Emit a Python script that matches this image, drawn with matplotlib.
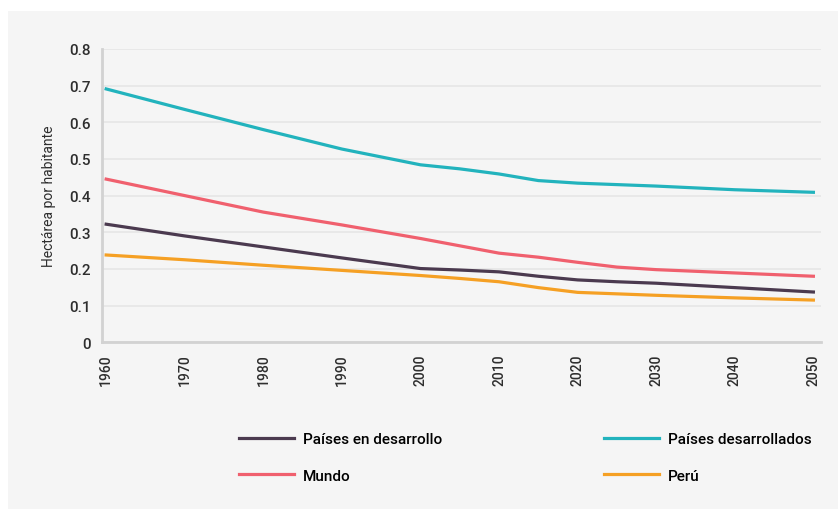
import matplotlib.pyplot as plt
from matplotlib.patches import Rectangle

years = [1960, 1970, 1980, 1990, 2000, 2005, 2010, 2015, 2020, 2025, 2030, 2040, 2050]
desarrollo = [0.322, 0.29, 0.26, 0.23, 0.201, 0.197, 0.192, 0.18, 0.17, 0.165, 0.161, 0.149, 0.137]
desarrollados = [0.691, 0.635, 0.58, 0.527, 0.484, 0.473, 0.459, 0.441, 0.434, 0.43, 0.426, 0.416, 0.409]
mundo = [0.445, 0.40, 0.355, 0.32, 0.283, 0.263, 0.243, 0.232, 0.218, 0.205, 0.198, 0.189, 0.18]
peru = [0.238, 0.225, 0.21, 0.196, 0.182, 0.174, 0.165, 0.149, 0.136, 0.132, 0.128, 0.121, 0.115]

xticks = list(range(1960, 2051, 10))
yticks = [0, 0.1, 0.2, 0.3, 0.4, 0.5, 0.6, 0.7, 0.8]

plt.rcParams['font.family'] = ['Roboto', 'DejaVu Sans']
text_col = '#2e2e2e'

fig = plt.figure(figsize=(8.38, 5.10), dpi=100)
fig.patches.append(Rectangle((8 / 838, 0), 1, 1 - 12 / 510, transform=fig.transFigure,
                             facecolor='#f5f5f5', edgecolor='none', zorder=-10))
ax = fig.add_axes([0.122, 0.327, 0.858, 0.575])
ax.set_facecolor('#f5f5f5')

l1, = ax.plot(years, desarrollo, color='#4b3a4f', lw=2.3, label='Países en desarrollo')
l2, = ax.plot(years, mundo, color='#f0606e', lw=2.3, label='Mundo')
l3, = ax.plot(years, desarrollados, color='#22b3bd', lw=2.3, label='Países desarrollados')
l4, = ax.plot(years, peru, color='#f5a024', lw=2.3, label='Perú')

ax.set_xlim(1959.5, 2051)
ax.set_ylim(0, 0.8)
ax.set_xticks(xticks)
ax.set_xticklabels([str(y) for y in xticks], rotation=90, fontsize=10, color=text_col,
                   fontweight='medium')
ax.set_yticks(yticks)
ax.set_yticklabels(['0' if v == 0 else f'{v:.1f}' for v in yticks], fontsize=11,
                   color=text_col, fontweight='medium')
ax.tick_params(length=0, pad=8)
ax.grid(True, axis='y', color='#e6e6e6', lw=1.2)
ax.set_axisbelow(True)
for s in ['top', 'right']:
    ax.spines[s].set_visible(False)
for s in ['left', 'bottom']:
    ax.spines[s].set_color('#d2d2d2')
    ax.spines[s].set_linewidth(2)
ax.set_ylabel('Hectárea por habitante', fontsize=10, color=text_col, labelpad=10)

leg_kw = dict(loc='center left', frameon=False, prop={'size': 11, 'weight': 'medium'},
              handlelength=3.6, labelspacing=1.45, handletextpad=0.6,
              borderaxespad=0, borderpad=0)
fig.legend(handles=[l1, l2], bbox_to_anchor=(0.285, 0.101), **leg_kw)
fig.legend(handles=[l3, l4], bbox_to_anchor=(0.721, 0.101), **leg_kw)

plt.savefig('out.png', dpi=100, facecolor='white')
